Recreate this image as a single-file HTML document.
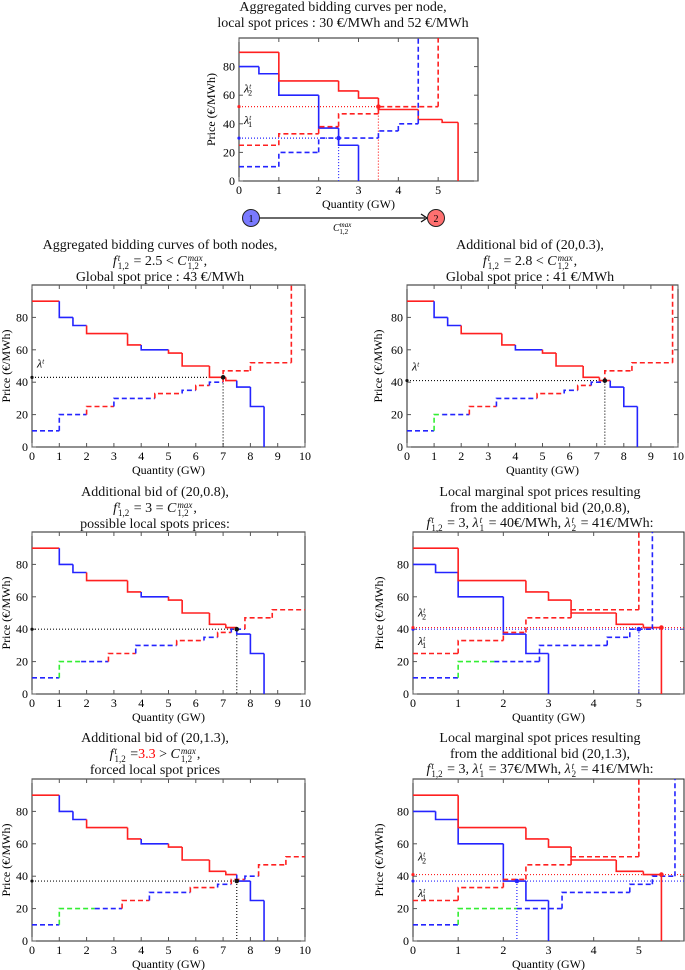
<!DOCTYPE html>
<html><head><meta charset="utf-8">
<style>
body{margin:0;background:#fff;}
#wrap{position:relative;width:685px;height:970px;overflow:hidden;font-family:"Liberation Serif",serif;color:#111;}
.t{position:absolute;text-align:center;font-size:14px;line-height:15.5px;white-space:nowrap;transform:translateX(-50%);}
.t i{font-style:italic;}
.ss{display:inline-block;vertical-align:-4px;line-height:8px;font-size:9px;text-align:left;margin:0 1px;}
.ss i{font-style:italic;}
svg{position:absolute;left:0;top:0;}
</style></head>
<body>
<div id="wrap">
<div class="t" style="left:343px;top:0px">Aggregated bidding curves per node,<br>local spot prices : 30 €/MWh and 52 €/MWh</div>
<div class="t" style="left:160px;top:238px">Aggregated bidding curves of both nodes,<br><i>f</i><span class="ss"><i>t</i><br>1,2</span> = 2.5 &lt; <i>C</i><span class="ss"><i>max</i><br>1,2</span>,<br>Global spot price : 43 €/MWh</div>
<div class="t" style="left:530px;top:238px">Additional bid of (20,0.3),<br><i>f</i><span class="ss"><i>t</i><br>1,2</span> = 2.8 &lt; <i>C</i><span class="ss"><i>max</i><br>1,2</span>,<br>Global spot price : 41 €/MWh</div>
<div class="t" style="left:155px;top:485px">Additional bid of (20,0.8),<br><i>f</i><span class="ss"><i>t</i><br>1,2</span> = 3 = <i>C</i><span class="ss"><i>max</i><br>1,2</span>,<br>possible local spots prices:</div>
<div class="t" style="left:540px;top:485px">Local marginal spot prices resulting<br>from the additional bid (20,0.8),<br><i>f</i><span class="ss"><i>t</i><br>1,2</span> = 3, <i>λ</i><span class="ss"><i>t</i><br>1</span> = 40€/MWh, <i>λ</i><span class="ss"><i>t</i><br>2</span> = 41€/MWh:</div>
<div class="t" style="left:155px;top:731px">Additional bid of (20,1.3),<br><i>f</i><span class="ss"><i>t</i><br>1,2</span> =<span style="color:#f00">3.3</span> &gt; <i>C</i><span class="ss"><i>max</i><br>1,2</span>,<br>forced local spot prices</div>
<div class="t" style="left:540px;top:731px">Local marginal spot prices resulting<br>from the additional bid (20,1.3),<br><i>f</i><span class="ss"><i>t</i><br>1,2</span> = 3, <i>λ</i><span class="ss"><i>t</i><br>1</span> = 37€/MWh, <i>λ</i><span class="ss"><i>t</i><br>2</span> = 41€/MWh:</div>
<svg id="svg" width="685" height="970" xmlns="http://www.w3.org/2000/svg"></svg>
</div>
<script>
// ---- data ----
const n1DemandQ=[0.5,0.5,1,0.5,0.5];
const n1DemandP=[80,75,60,37,25];
const n2DemandQ=[1,1.5,0.5,0.5,1,0.6,0.4];
const n2DemandP=[90,70,63,58,50,43,41];
const n1SupplyQ=[1,1,1.5,0.5,0.5];
const n1SupplyP=[10,20,30,35,40];
const n2SupplyQ=[1,1,0.5,1,1.5];
const n2SupplyP=[25,33,38,47,52];
const bidPrice=20;
const bidQty=[0,0.3,0.8,1.3];
const spotTop=[30,52];
const spotTopQ=[2.5,3.5];
const spotGlobal=[43,41,40,37];
const spotGlobalQ=[7,7.3,7.5,7.5];
const spotLocal08=[40,41];
const spotLocal08Q=[5,5.5];
const spotLocal13=[37,41];
const spotLocal13Q=[2.3,5.5];

const RED='#ff2020',BLUE='#2424ff',GREEN='#33ee33';
const svg=document.getElementById('svg');
const NS='http://www.w3.org/2000/svg';
function mk(tag,attrs,parent){const e=document.createElementNS(NS,tag);for(const k in attrs)e.setAttribute(k,attrs[k]);(parent||svg).appendChild(e);return e;}
function steps(Q,P,c){return Q.map((q,i)=>({q:q,p:P[i],c:c}));}
function merge(lists,desc){let all=[].concat(...lists);all=all.map((s,i)=>({...s,i}));all.sort((a,b)=>desc?(b.p-a.p)||(a.i-b.i):(a.p-b.p)||(a.i-b.i));return all;}

function panel(name,box,xmax,xticks,curves,marks,ylabX){
  const g=mk('g',{});
  
  
  const X=v=>box.x0+(box.x1-box.x0)*v/xmax;
  const Y=v=>box.y1-(box.y1-box.y0)*v/100;
  const cid='c'+name;
  const cp=mk('clipPath',{id:cid},g);mk('rect',{x:box.x0,y:box.y0,width:box.x1-box.x0,height:box.y1-box.y0},cp);
  mk('rect',{x:box.x0,y:box.y0,width:box.x1-box.x0,height:box.y1-box.y0,fill:'#fff',stroke:'#222','stroke-width':1},g);
  xticks.forEach(t=>{
    mk('line',{x1:X(t),x2:X(t),y1:box.y1,y2:box.y1-4,stroke:'#555'},g);
    mk('line',{x1:X(t),x2:X(t),y1:box.y0,y2:box.y0+4,stroke:'#555'},g);
    const tx=mk('text',{x:X(t),y:box.y1+13,'text-anchor':'middle','font-size':12,'font-family':'Liberation Serif, serif'},g);tx.textContent=t;
  });
  [0,20,40,60,80].forEach(t=>{
    mk('line',{x1:box.x0,x2:box.x0+4,y1:Y(t),y2:Y(t),stroke:'#555'},g);
    mk('line',{x1:box.x1,x2:box.x1-4,y1:Y(t),y2:Y(t),stroke:'#555'},g);
    const tx=mk('text',{x:box.x0-4,y:Y(t)+4,'text-anchor':'end','font-size':12,'font-family':'Liberation Serif, serif'},g);tx.textContent=t;
  });
  const xl=mk('text',{x:(box.x0+box.x1)/2,y:box.y1+27,'text-anchor':'middle','font-size':12,'font-family':'Liberation Serif, serif'},g);xl.textContent='Quantity (GW)';
  
  const yl=mk('text',{x:ylabX,y:(box.y0+box.y1)/2,'text-anchor':'middle','font-size':12,'font-family':'Liberation Serif, serif',transform:`rotate(-90 ${ylabX} ${(box.y0+box.y1)/2})`},g);yl.textContent='Price (€/MWh)';
  
  const pg=mk('g',{'clip-path':`url(#${cid})`},g);
  marks.forEach(m=>{
    const xe=m.full?xmax:m.q;
    mk('line',{x1:X(0),x2:X(xe),y1:Y(m.p),y2:Y(m.p),stroke:m.c,'stroke-width':1.2,'stroke-dasharray':'1,2'},pg);
    if(m.vert)mk('line',{x1:X(m.q),x2:X(m.q),y1:Y(m.p),y2:Y(0),stroke:m.c,'stroke-width':1.2,'stroke-dasharray':'1,2'},pg);
  });
  curves.forEach(cv=>{
    let s=0,prev=cv.demand?100:cv.list[0].p;
    cv.list.forEach((st,i)=>{
      const e=s+st.q;
      const seg=mk('path',{d:`M${X(s)},${Y(i==0?st.p:prev)}L${X(s)},${Y(st.p)}L${X(e)},${Y(st.p)}`,fill:'none',stroke:st.c,'stroke-width':1.6,'stroke-dasharray':cv.demand?'none':'5,3'},pg);
      
      
      prev=st.p;s=e;
    });
    const last=cv.list[cv.list.length-1];
    mk('line',{x1:X(s),x2:X(s),y1:Y(prev),y2:Y(cv.demand?0:100),stroke:last.c,'stroke-width':1.6,'stroke-dasharray':cv.demand?'none':'5,3'},pg);
  });
  marks.forEach(m=>{
    const d=mk('circle',{cx:X(m.q),cy:Y(m.p),r:2.3,fill:m.dot||m.c},g);
    
    
    mk('circle',{cx:X(0),cy:Y(m.p),r:1.6,fill:m.dot||m.c},g);
    if(m.lab){
      const t=mk('text',{x:X(0)+5,y:Y(m.p)+m.ly,'font-size':12,'font-style':'italic','font-family':'Liberation Serif, serif'},g);
      t.innerHTML=`λ<tspan dy="-4" font-size="7">t</tspan>`+(m.lab.trim()?`<tspan dx="-3" dy="7" font-size="8" font-style="normal">${m.lab}</tspan>`:'');
      
    }
  });
}

const d1=steps(n1DemandQ,n1DemandP,BLUE), d2=steps(n2DemandQ,n2DemandP,RED);
const s1=steps(n1SupplyQ,n1SupplyP,BLUE), s2=steps(n2SupplyQ,n2SupplyP,RED);
const aggD=merge([d1,d2],true);
function aggS(bq){const g=bq>0?[{q:bq,p:bidPrice,c:GREEN}]:[];return merge([g,s1,s2],false);}
function locS1(bq){return merge([[{q:bq,p:bidPrice,c:GREEN}],s1],false);}
const X10=[0,1,2,3,4,5,6,7,8,9,10], X5=[0,1,2,3,4,5];

panel('chart-per-node',{x0:239,x1:478,y0:38,y1:181},6,X5,
 [{list:d1,demand:true},{list:d2,demand:true},{list:s1},{list:s2}],
 [{q:spotTopQ[0],p:spotTop[0],c:BLUE,vert:true,lab:'1',ly:-14},{q:spotTopQ[1],p:spotTop[1],c:RED,vert:true,lab:'2',ly:-14}],215);
const aggBoxes=[{x0:32,x1:305,y0:285,y1:447},{x0:407,x1:678,y0:285,y1:447},{x0:32,x1:305,y0:532,y1:694},{x0:32,x1:305,y0:779,y1:941}];
const aggNames=['chart-aggregated','chart-bid-03','chart-bid-08','chart-bid-13'];
const aggYl=[10,382,10,10];
for(let k=0;k<4;k++){
  panel(aggNames[k],aggBoxes[k],10,X10,[{list:aggD,demand:true},{list:aggS(bidQty[k])}],
   [{q:spotGlobalQ[k],p:spotGlobal[k],c:'#111',vert:true,lab:k<2?' ':'',ly:-10}],aggYl[k]);
}
panel('chart-local-08',{x0:413,x1:684,y0:532,y1:694},6,X5,
 [{list:d1,demand:true},{list:d2,demand:true},{list:locS1(bidQty[2])},{list:s2}],
 [{q:spotLocal08Q[0],p:spotLocal08[0],c:BLUE,vert:true,full:true,lab:'1',ly:16},{q:spotLocal08Q[1],p:spotLocal08[1],c:RED,full:true,lab:'2',ly:-11}],383);
panel('chart-local-13',{x0:413,x1:684,y0:779,y1:941},6,X5,
 [{list:d1,demand:true},{list:d2,demand:true},{list:locS1(bidQty[3])},{list:s2}],
 [{q:spotLocal13Q[0],p:spotLocal13[0],c:BLUE,vert:true,full:true,lab:'1',ly:16},{q:spotLocal13Q[1],p:spotLocal13[1],c:RED,full:true,lab:'2',ly:-14}],383);

const nd=mk('g',{});


mk('line',{x1:259,y1:218,x2:425,y2:218,stroke:'#111','stroke-width':1.3},nd);
mk('path',{d:'M421,214 L427,218 L421,222',fill:'none',stroke:'#111','stroke-width':1.3},nd);
const c1=mk('circle',{cx:251,cy:218,r:8.5,fill:'#7a7aff',stroke:'#222','stroke-width':1},nd);


const c2=mk('circle',{cx:436,cy:218,r:8.5,fill:'#ff7070',stroke:'#222','stroke-width':1},nd);


let tt=mk('text',{x:251,y:222,'text-anchor':'middle','font-size':10,'font-family':'Liberation Serif, serif'},nd);tt.textContent='1';
tt=mk('text',{x:436,y:222,'text-anchor':'middle','font-size':10,'font-family':'Liberation Serif, serif'},nd);tt.textContent='2';
tt=mk('text',{x:333,y:231,'font-size':10,'font-style':'italic','font-family':'Liberation Serif, serif'},nd);
tt.innerHTML='C<tspan dy="-4" font-size="7">max</tspan><tspan dx="-12" dy="7" font-size="7" font-style="normal">1,2</tspan>';

</script>
</body></html>
